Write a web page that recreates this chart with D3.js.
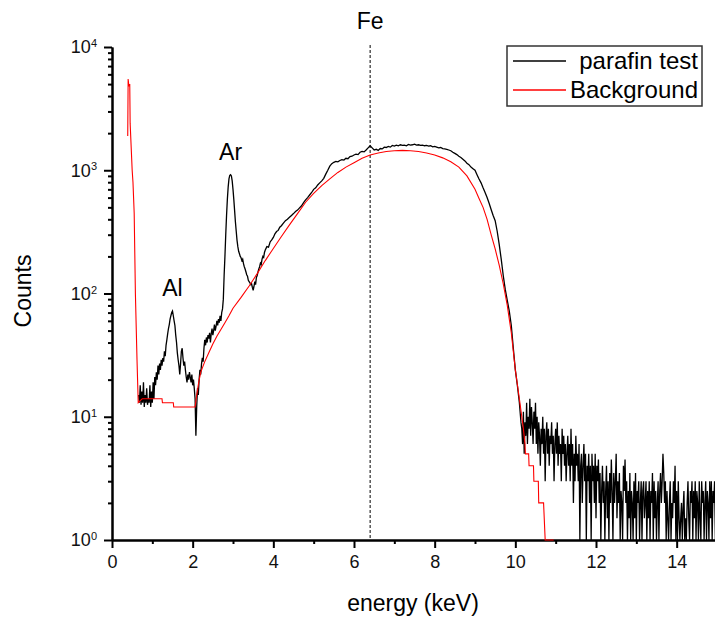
<!DOCTYPE html>
<html lang="en">
<head>
    <meta charset="UTF-8">
    <title>EDX spectrum</title>
    <script src="https://d3js.org/d3.v7.min.js"></script>
    <style>
        body { margin: 0; background: white; font-family: "Liberation Sans", Arial, sans-serif; }
        .axis path, .axis line { fill: none; stroke: #000; stroke-width: 2px; }
        .axis text { font-size: 18px; fill: #111; font-family: "Liberation Sans", Arial, sans-serif; }
    </style>
</head>
<body>
<div id="chart"></div>
<script>
    // measured spectrum, [energy keV, counts]
    const spectrum = [
        [0.66,15],[0.68,13],[0.70,18],[0.72,12.5],[0.74,16],[0.76,13],[0.78,19],[0.80,12],[0.82,15],[0.84,13],
        [0.86,17],[0.88,12.5],[0.90,14],[0.92,13],[0.94,18],[0.96,12],[0.98,16],[1.00,13],[1.02,19],[1.04,14],
        [1.06,21],[1.08,18],[1.10,23],[1.12,20],[1.14,26],[1.16,22],[1.18,27],[1.20,24],[1.22,29],[1.24,26],
        [1.26,30],[1.28,28],[1.30,34],[1.32,31],[1.34,38],[1.36,42],[1.38,47],[1.40,52],[1.42,56],[1.44,62],
        [1.46,66],[1.48,70],[1.50,72],[1.52,66],[1.54,60],[1.56,55],[1.58,46],[1.60,40],[1.62,33],[1.64,29],
        [1.66,26],[1.68,22],[1.70,27],[1.72,34],[1.74,36],[1.76,30],[1.78,26],[1.80,28],[1.82,24],[1.84,21],
        [1.86,19],[1.88,22],[1.90,20],[1.92,23],[1.94,21],[1.96,19],[1.98,22],[2.00,18],[2.02,20],[2.04,17],
        [2.06,14],[2.08,7],[2.10,12],[2.12,17],[2.14,15],[2.16,20],[2.18,24],[2.20,22],[2.22,27],[2.24,30],
        [2.26,28],[2.28,36],[2.30,42],[2.32,38],[2.34,44],[2.36,40],[2.38,46],[2.40,43],[2.42,48],[2.44,40],
        [2.46,47],[2.48,52],[2.50,46],[2.52,50],[2.54,56],[2.56,50],[2.58,54],[2.60,60],[2.62,55],[2.64,62],
        [2.66,58],[2.68,66],[2.70,60],[2.72,70],[2.74,75],[2.76,90],[2.78,140],[2.80,200],[2.82,300],[2.84,430],
        [2.86,580],[2.88,730],[2.90,850],[2.92,910],[2.94,920],[2.96,900],[2.98,820],[3.00,700],[3.02,580],[3.04,470],
        [3.06,380],[3.08,320],[3.10,270],[3.12,240],[3.14,220],[3.16,210],[3.18,200],[3.20,195],[3.22,185],[3.24,190],
        [3.26,175],[3.28,165],[3.30,158],[3.32,150],[3.34,142],[3.36,138],[3.38,128],[3.40,125],[3.42,122],[3.44,118],
        [3.46,120],[3.48,112],[3.50,106],[3.52,114],[3.54,125],[3.56,118],[3.58,135],[3.60,140],[3.62,150],[3.64,158],
        [3.66,165],[3.68,176],[3.70,172],[3.72,190],[3.74,200],[3.76,196],[3.78,215],[3.80,225],[3.84,240],[3.88,238],
        [3.92,262],[3.96,272],[4.00,285],[4.04,305],[4.08,318],[4.12,325],[4.16,345],[4.20,355],[4.25,372],[4.30,390],
        [4.35,400],[4.40,415],[4.45,430],[4.50,445],[4.55,462],[4.60,475],[4.65,495],[4.70,515],[4.75,545],[4.80,575],
        [4.85,600],[4.90,630],[4.95,660],[5.00,700],[5.05,720],[5.10,760],[5.15,790],[5.20,820],[5.25,860],[5.30,930],
        [5.35,1000],[5.40,1080],[5.45,1130],[5.50,1160],[5.55,1180],[5.60,1170],[5.65,1200],[5.70,1220],[5.75,1210],[5.80,1250],
        [5.85,1240],[5.90,1290],[5.95,1300],[6.00,1330],[6.05,1350],[6.10,1340],[6.15,1400],[6.20,1420],[6.25,1410],[6.30,1460],
        [6.35,1520],[6.40,1580],[6.45,1520],[6.50,1460],[6.55,1480],[6.60,1450],[6.65,1500],[6.70,1490],[6.75,1540],[6.80,1530],
        [6.85,1560],[6.90,1540],[6.95,1590],[7.00,1570],[7.05,1600],[7.10,1580],[7.15,1610],[7.20,1590],[7.25,1600],[7.30,1580],
        [7.35,1620],[7.40,1600],[7.45,1610],[7.50,1630],[7.55,1600],[7.60,1610],[7.65,1590],[7.70,1600],[7.75,1580],[7.80,1590],
        [7.85,1570],[7.90,1580],[7.95,1550],[8.00,1560],[8.05,1540],[8.10,1520],[8.15,1530],[8.20,1500],[8.25,1490],[8.30,1480],
        [8.35,1460],[8.40,1440],[8.45,1400],[8.50,1370],[8.55,1340],[8.60,1300],[8.65,1270],[8.70,1230],[8.75,1190],[8.80,1140],
        [8.85,1110],[8.90,1060],[8.95,1030],[9.00,1000],[9.05,920],[9.10,850],[9.15,790],[9.20,720],[9.25,660],[9.30,600],
        [9.35,540],[9.40,480],[9.45,430],[9.50,390],[9.55,320],[9.60,250],[9.65,190],[9.70,140],[9.75,108],[9.80,88],
        [9.85,72],[9.90,55],[9.95,36],[10.00,24],[10.05,18],[10.10,13],[10.14,9]
    ];

    // noisy high-energy tail of the measured spectrum
    const tail = [
        [10.16,8],[10.18,6],[10.20,11],[10.22,5],[10.24,9],[10.26,7],[10.28,13],[10.30,6],[10.32,10],[10.34,8],
        [10.36,14],[10.38,7],[10.40,12],[10.42,9],[10.44,6],[10.46,11],[10.48,8],[10.50,13],[10.52,6],[10.54,10],
        [10.56,5],[10.58,9],[10.60,7],[10.62,4],[10.64,8],[10.66,6],[10.68,10],[10.70,5],[10.72,8],[10.74,3],
        [10.76,7],[10.78,9],[10.80,5],[10.82,8],[10.84,4],[10.86,7],[10.88,6],[10.90,9],[10.92,5],[10.94,7],
        [10.96,3],[10.98,6],[11.00,8],[11.02,5],[11.04,9],[11.06,4],[11.08,7],[11.10,5],[11.12,6],[11.14,3],
        [11.16,8],[11.18,5],[11.20,7],[11.22,4],[11.24,6],[11.26,3],[11.28,5],[11.30,7],[11.32,4],[11.34,6],
        [11.36,3],[11.38,8],[11.40,4],[11.42,6],[11.44,2],[11.46,5],[11.48,3],[11.50,7],[11.52,4],[11.54,5],
        [11.56,3],[11.58,6],[11.60,1],[11.62,4],[11.64,5],[11.66,2],[11.68,4],[11.70,6],[11.72,3],[11.74,5],
        [11.76,1],[11.78,4],[11.80,3],[11.82,5],[11.84,2],[11.86,4],[11.88,1],[11.90,5],[11.92,3],[11.94,4],
        [11.96,2],[11.98,5],[12.00,1.5],[12.02,4],[12.04,3],[12.06,4.5],[12.08,2],[12.10,3.5],[12.12,1],[12.14,2.5],
        [12.16,4],[12.18,2],[12.20,3],[12.22,1],[12.24,2.5],[12.26,4],[12.28,1.5],[12.30,3],[12.32,1],[12.34,3.5],
        [12.36,2],[12.38,4.5],[12.40,2.5],[12.42,1],[12.44,3.5],[12.46,2],[12.48,3],[12.50,5],[12.52,1.5],[12.54,3],
        [12.56,2],[12.58,3.5],[12.60,1],[12.62,2.5],[12.64,2],[12.66,1],[12.68,4],[12.70,2.5],[12.72,4.5],[12.74,2],
        [12.76,3],[12.78,1],[12.80,2.5],[12.82,1.5],[12.84,3.5],[12.86,1],[12.88,2.5],[12.90,2],[12.92,1],[12.94,3],
        [12.96,1.5],[12.98,3.5],[13.00,1],[13.02,2.5],[13.04,2],[13.06,3],[13.08,1],[13.10,2],[13.12,3],[13.14,1],
        [13.16,2.5],[13.18,3],[13.20,1.5],[13.22,2],[13.24,3],[13.26,1],[13.28,2.5],[13.30,1.5],[13.32,3],[13.34,1],
        [13.36,2.5],[13.38,2],[13.40,3.5],[13.42,1],[13.44,3],[13.46,1.5],[13.48,2.5],[13.50,1],[13.52,2],[13.54,3],
        [13.56,1],[13.58,2.5],[13.60,3.5],[13.62,2],[13.64,3],[13.66,5],[13.68,3.5],[13.70,2],[13.72,3],[13.74,1],
        [13.76,2.5],[13.78,1.5],[13.80,1],[13.82,2],[13.84,3],[13.86,1],[13.88,2],[13.90,1.5],[13.92,3],[13.94,2],
        [13.96,4],[13.98,1],[14.00,2.5],[14.02,1],[14.04,3],[14.06,1.5],[14.08,1],[14.10,1.5],[14.12,2],[14.14,1],
        [14.16,1.8],[14.18,2.5],[14.20,1],[14.22,1.5],[14.24,1],[14.26,2],[14.28,3],[14.30,1.5],[14.32,1],[14.34,2.5],
        [14.36,2],[14.38,3],[14.40,1],[14.42,2.5],[14.44,1.5],[14.46,3],[14.48,1],[14.50,2.5],[14.52,2],[14.54,1],
        [14.56,3],[14.58,1.5],[14.60,1],[14.62,3],[14.64,2],[14.66,2.5],[14.68,1],[14.70,2],[14.72,3],[14.74,1],
        [14.76,2.5],[14.78,2],[14.80,1],[14.82,3],[14.84,1.5],[14.86,3],[14.88,1],[14.90,2.5],[14.92,2],[14.94,3],
        [14.96,1],[14.98,3],[15.00,2]
    ];

    // fitted background, [energy keV, counts]
    const background = [
        [0.39,1900],[0.40,5500],[0.42,4800],[0.44,5000],[0.45,2400],[0.50,1000],[0.52,800],[0.55,450],[0.58,100],[0.62,29],
        [0.65,13],[0.70,13.5],[0.75,14],[0.90,14],[1.24,14],[1.25,13],[1.52,13],[1.53,12],[2.06,12],[2.10,15],
        [2.15,19],[2.20,23],[2.30,28],[2.40,33],[2.50,39],[2.60,45],[2.70,51],[2.80,58],[2.90,66],[3.00,76],
        [3.20,93],[3.40,115],[3.60,145],[3.80,185],[4.00,232],[4.20,290],[4.40,360],[4.60,445],[4.80,550],[5.00,650],
        [5.20,750],[5.40,850],[5.60,960],[5.80,1060],[6.00,1150],[6.20,1250],[6.40,1330],[6.60,1380],[6.80,1420],[7.00,1440],
        [7.20,1450],[7.40,1440],[7.60,1420],[7.80,1380],[8.00,1330],[8.20,1260],[8.40,1170],[8.60,1060],[8.80,900],[9.00,700],
        [9.10,590],[9.20,500],[9.30,400],[9.40,300],[9.50,230],[9.60,170],[9.70,120],[9.80,80],[9.90,48],[10.00,24],
        [10.10,14],[10.20,8],[10.24,6],[10.25,5],[10.33,5],[10.34,4],[10.45,4],[10.46,3],[10.57,3],[10.58,2],
        [10.70,2],[10.74,1],[10.95,1]
    ];

    const xTicks = [0, 2, 4, 6, 8, 10, 12, 14];
    const xMinorTicks = [1, 3, 5, 7, 9, 11, 13, 15];
    const yTicks = [1, 10, 100, 1000, 10000];
    const peaks = [
        {label: "Al", energy: 1.5, counts: 72},
        {label: "Ar", energy: 2.94, counts: 920}
    ];
    const feEnergy = 6.4;
    const seriesNames = ["parafin test", "Background"];
    const seriesColors = ["#000000", "#ff0000"];

    const width = 715, height = 617;
    const svg = d3.select("#chart").append("svg")
        .attr("width", width)
        .attr("height", height);

    const x = d3.scaleLinear().domain([0, 15]).range([112, 717]);
    const y = d3.scaleLog().domain([1, 10000]).range([540, 47]);

    // minor y ticks 2..9 per decade
    const yMinor = [];
    for (let p = 0; p < 4; p++) {
        for (let m = 2; m <= 9; m++) yMinor.push(m * Math.pow(10, p));
    }

    // axes
    svg.append("g")
        .attr("class", "axis")
        .attr("transform", "translate(0,540)")
        .call(d3.axisBottom(x).tickValues(xMinorTicks).tickSize(4).tickSizeOuter(0).tickFormat(""));
    svg.append("g")
        .attr("class", "axis")
        .attr("transform", "translate(0,540)")
        .call(d3.axisBottom(x).tickValues(xTicks).tickSize(8).tickSizeOuter(0).tickPadding(7));

    svg.append("g")
        .attr("class", "axis")
        .attr("transform", "translate(112,0)")
        .call(d3.axisLeft(y).tickValues(yMinor).tickSize(4).tickSizeOuter(0).tickFormat(""));
    const yAxis = svg.append("g")
        .attr("class", "axis")
        .attr("transform", "translate(112,0)")
        .call(d3.axisLeft(y).tickValues(yTicks).tickSize(8).tickSizeOuter(0).tickPadding(7));

    // 10^n labels with superscript
    yAxis.selectAll(".tick text").each(function(d) {
        const t = d3.select(this).text(null);
        t.append("tspan").text("10");
        t.append("tspan").attr("dy", "-0.55em").style("font-size", "11px").text(Math.round(Math.log10(d)));
    });

    // Fe marker
    svg.append("line")
        .attr("x1", x(feEnergy)).attr("x2", x(feEnergy))
        .attr("y1", 45).attr("y2", 540)
        .attr("stroke", "#000")
        .attr("stroke-width", 1)
        .attr("stroke-dasharray", "3,2");
    svg.append("text")
        .attr("x", x(feEnergy))
        .attr("y", 29)
        .attr("text-anchor", "middle")
        .style("font-size", "23px")
        .text("Fe");

    const line = d3.line()
        .x(d => x(d[0]))
        .y(d => y(d[1]));

    svg.append("path")
        .datum(spectrum.concat(tail))
        .attr("fill", "none")
        .attr("stroke", seriesColors[0])
        .attr("stroke-width", 1.3)
        .attr("d", line);

    svg.append("path")
        .datum(background)
        .attr("fill", "none")
        .attr("stroke", seriesColors[1])
        .attr("stroke-width", 1.1)
        .attr("d", line);

    // peak labels
    svg.selectAll(".peak")
        .data(peaks)
        .enter().append("text")
        .attr("class", "peak")
        .attr("x", d => x(d.energy))
        .attr("y", d => y(d.counts) - 15)
        .attr("text-anchor", "middle")
        .style("font-size", "23px")
        .text(d => d.label);

    // axis titles
    svg.append("text")
        .attr("x", 413)
        .attr("y", 611)
        .attr("text-anchor", "middle")
        .style("font-size", "23px")
        .text("energy (keV)");
    svg.append("text")
        .attr("transform", "translate(31,291) rotate(-90)")
        .attr("text-anchor", "middle")
        .style("font-size", "23px")
        .text("Counts");

    // legend
    const legend = svg.append("g");
    legend.append("rect")
        .attr("x", 507).attr("y", 46)
        .attr("width", 195).attr("height", 60)
        .attr("fill", "white")
        .attr("stroke", "#333")
        .attr("stroke-width", 1.5);
    seriesNames.forEach((name, i) => {
        const ly = 61 + i * 29;
        legend.append("line")
            .attr("x1", 513).attr("x2", 566)
            .attr("y1", ly).attr("y2", ly)
            .attr("stroke", seriesColors[i])
            .attr("stroke-width", 1.3);
        legend.append("text")
            .attr("x", 698)
            .attr("y", ly + 8)
            .attr("text-anchor", "end")
            .style("font-size", "24px")
            .text(name);
    });
</script>
</body>
</html>
